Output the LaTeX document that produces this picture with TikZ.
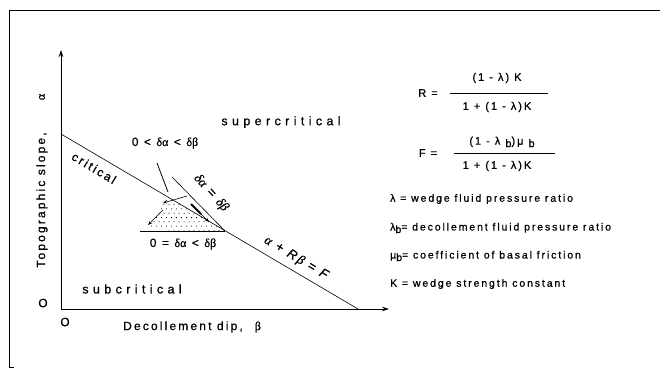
\documentclass[tikz,border=0pt]{standalone}
\usepackage{fontspec}
\setmainfont{Liberation Sans}[LetterSpace=18,FakeBold=0.8]
\newfontfamily\grk{Liberation Serif}[FakeBold=0.8]
\usetikzlibrary{arrows.meta}
\begin{document}
\begin{tikzpicture}[x=1pt,y=-1pt,
  lbl/.style={inner sep=0pt, font=\fontsize{12}{14}\selectfont},
  wide/.style={inner sep=0pt, font=\fontsize{12.5}{14}\selectfont\addfontfeature{LetterSpace=35}},
  frm/.style={inner sep=0pt, font=\fontsize{11}{13}\selectfont},
  defn/.style={inner sep=0pt, anchor=west, font=\fontsize{10.5}{12}\selectfont},
  axisline/.style={line width=0.7pt, -{Stealth[length=7pt,width=4.5pt]}},
  plain/.style={line width=0.6pt},
  tiparrow/.style={line width=0.6pt, -{Stealth[length=4pt,width=3pt]}}]
\useasboundingbox (0,0) rectangle (660,374);
% frame
\coordinate (fTR) at (660,10);
\coordinate (fTL) at (9,10);
\coordinate (fBL) at (9,367);
\coordinate (fBT) at (14,367);
\draw[line width=0.8pt] (fTR) -- (fTL) -- (fBL) -- (fBT);
% axes
\coordinate (O) at (61,309);
\coordinate (ytip) at (61,50);
\coordinate (xtip) at (389,309);
\draw[axisline] (O) -- (ytip);
\draw[axisline] (O) -- (xtip);
% critical line
\coordinate (c1) at (61,134);
\coordinate (c2) at (358,309);
\coordinate (apex) at (225,231);
\draw[plain] (c1) -- (c2);
% dotted wedge
\begin{scope}
\clip (166,196.5) -- (147,230) -- (apex) -- cycle;
\foreach \i in {0,...,17}
  \foreach \j in {0,...,8}
    \fill ({144+\i*5+mod(\j,2)*2.5},{196+\j*4.3}) circle (0.55);
\end{scope}
% lines at the wedge
\coordinate (e1) at (172,177);
\coordinate (h1) at (140,231);
\draw[plain] (e1) -- (apex);
\draw[plain] (h1) -- (apex);
\coordinate (p1) at (157,163);
\coordinate (p2) at (168,192);
\draw[line width=0.8pt] (p1) -- (p2);
% small arrows
\coordinate (a1s) at (187,196);
\coordinate (a1e) at (163,203);
\draw[tiparrow] (a1s) -- (a1e);
\coordinate (a2s) at (163,210);
\coordinate (a2e) at (148,225);
\draw[tiparrow] (a2s) -- (a2e);
\coordinate (a3s) at (191,204);
\coordinate (a3m) at (201,214);
\coordinate (a3e) at (209,222);
\draw[line width=1.8pt] (a3s) -- (a3m);
\draw[tiparrow] (a3m) -- (a3e);
% labels
\node[wide] (sup) at (281,122) {supercritical};
\node[wide] (sub) at (132,289) {subcritical};
\node[lbl,rotate=-31] (crit) at (94,168) {critical};
\node[lbl] (l1) at (165,143) {0 < {\grk δα} < {\grk δβ}};
\node[lbl] (l2) at (183,244) {0 = {\grk δα} < {\grk δβ}};
\node[lbl,rotate=-48,font=\fontsize{13}{14}\selectfont] (l3) at (211,193) {{\grk\itshape δα} = {\grk\itshape δβ}};
\node[lbl,rotate=-31,font=\fontsize{13}{14}\selectfont] (l4) at (296,258) {{\grk\itshape α} + {\itshape R}\,{\grk\itshape β} = {\itshape F}};
\node[lbl] (o1) at (43,303) {O};
\node[lbl] (o2) at (65,322) {O};
\node[lbl,anchor=west] (xl) at (123,327) {Decollement dip,\quad {\grk β}};
\node[lbl,rotate=90] (yl) at (42,200) {Topographic slope,};
\node[lbl,rotate=90] (ya) at (42,97) {{\grk α}};
% formulas
\node[frm] (Rl) at (428,93) {R =};
\node[frm] (Rn) at (497,78) {(1 - λ) K};
\node[frm] (Rd) at (497,107) {1 + (1 - λ)K};
\coordinate (rb1) at (450,93);
\coordinate (rb2) at (548,93);
\draw[plain] (rb1) -- (rb2);
\node[frm] (Fl) at (428,153) {F =};
\node[frm] (Fn) at (502,142) {(1 - λ \raisebox{-2.5pt}{b})μ \raisebox{-2.5pt}{b}};
\node[frm] (Fd) at (497,166) {1 + (1 - λ)K};
\coordinate (fb1) at (454,153);
\coordinate (fb2) at (555,153);
\draw[plain] (fb1) -- (fb2);
\node[defn] (d1) at (390,199) {λ = wedge fluid pressure ratio};
\node[defn] (d2) at (390,228) {λ\raisebox{-2.5pt}{b}= decollement fluid pressure ratio};
\node[defn] (d3) at (390,256) {μ\raisebox{-2.5pt}{b}= coefficient of basal friction};
\node[defn] (d4) at (390,284) {K = wedge strength constant};
\end{tikzpicture}
\end{document}
